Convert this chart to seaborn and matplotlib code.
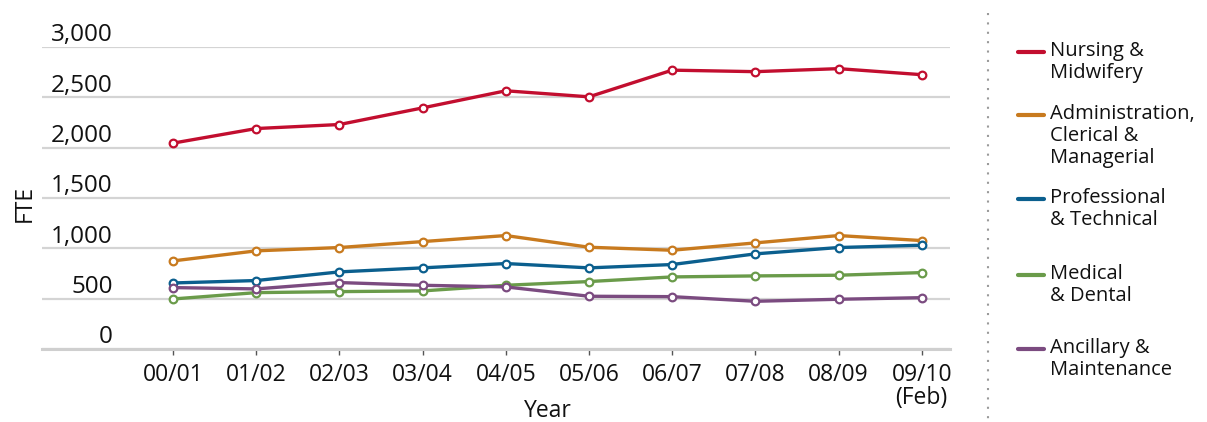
import matplotlib
matplotlib.use("Agg")
import matplotlib.pyplot as plt
import matplotlib.transforms as mtransforms
from matplotlib.lines import Line2D
import seaborn as sns
import pandas as pd

years = ["00/01", "01/02", "02/03", "03/04", "04/05", "05/06", "06/07", "07/08", "08/09", "09/10\n(Feb)"]
nursing = [2045, 2190, 2230, 2395, 2565, 2505, 2770, 2755, 2785, 2725]
admin = [875, 975, 1008, 1067, 1127, 1011, 981, 1054, 1127, 1077]
professional = [656, 680, 766, 806, 849, 806, 839, 945, 1008, 1031]
medical = [497, 560, 570, 577, 633, 670, 716, 726, 733, 759]
ancillary = [610, 597, 660, 633, 617, 524, 520, 474, 494, 510]

series_names = ["Nursing &\nMidwifery", "Administration,\nClerical &\nManagerial",
                "Professional\n& Technical", "Medical\n& Dental", "Ancillary &\nMaintenance"]
series_values = [nursing, admin, professional, medical, ancillary]
colors = ["#C20E2F", "#C87A1E", "#0B5F8E", "#6A9B4A", "#7B4B80"]
y_ticks = [0, 500, 1000, 1500, 2000, 2500, 3000]
y_ticklabels = ["0", "500", "1,000", "1,500", "2,000", "2,500", "3,000"]

rows = []
for name, vals in zip(series_names, series_values):
    for i, v in enumerate(vals):
        rows.append({"x": i, "FTE": v, "series": name})
df = pd.DataFrame(rows)

sns.set_style("white")
plt.rcParams["font.family"] = ["Open Sans", "DejaVu Sans"]

W, H = 1207, 422
fig = plt.figure(figsize=(W / 100, H / 100), dpi=100)
ax = fig.add_axes([42 / W, 1 - 349 / H, (950 - 42) / W, (349 - 47) / H])

sns.lineplot(data=df, x="x", y="FTE", hue="series", hue_order=series_names,
             palette=colors, marker="o", markersize=5.5, linewidth=2.4,
             legend=False, ax=ax, clip_on=False, zorder=3)
for line in ax.lines:
    c = line.get_color()
    line.set_markeredgecolor(c)
    line.set_markerfacecolor("white")
    line.set_markeredgewidth(1.6)

ax.set_xlim(-1.575, 9.34)
ax.set_ylim(0, 3000)
ax.set_xticks(range(len(years)))
ax.set_xticklabels(years, fontsize=16.5, color="#111111", linespacing=0.95)
ax.set_yticks(y_ticks)
ax.set_yticklabels(y_ticklabels, fontsize=17.5, color="#111111")

ax.grid(axis="y", color="#d4d4d4", linewidth=1.6)
ax.grid(axis="x", visible=False)
for s in ["top", "right", "left"]:
    ax.spines[s].set_visible(False)
ax.spines["bottom"].set_color("#cfcfcf")
ax.spines["bottom"].set_linewidth(2.2)
ax.spines["bottom"].set_zorder(1)

ax.tick_params(axis="x", length=4, width=1, color="#555555", pad=6, direction="out", bottom=True)
ax.tick_params(axis="y", length=0, pad=-51)
offset = mtransforms.ScaledTranslation(0, 4 / 72, fig.dpi_scale_trans)
for lbl in ax.get_yticklabels():
    lbl.set_verticalalignment("baseline")
    lbl.set_transform(lbl.get_transform() + offset)

ax.set_xlabel("Year", fontsize=16.5, color="#111111")
ax.xaxis.set_label_coords((548 - 42) / 908, -0.166)
ax.set_ylabel("FTE", fontsize=16.5, color="#111111")
ax.yaxis.set_label_coords((37 - 42) / 908, 0.483)

# divider
fig.add_artist(Line2D([988 / W, 988 / W], [1 - 13 / H, 1 - 420 / H], color="#9a9a9a",
                      linewidth=1.5, linestyle=(0, (1, 3.5)), transform=fig.transFigure))

# legend
handle_y = [52, 115, 199, 275, 349]
for name, c, hy in zip(series_names, colors, handle_y):
    yf = 1 - hy / H
    fig.add_artist(Line2D([1018 / W, 1044 / W], [yf, yf], color=c, linewidth=3,
                          solid_capstyle="round", transform=fig.transFigure))
    fig.text(1050 / W, 1 - (hy - 11) / H, name, fontsize=14.5, va="top", ha="left",
             color="#111111", linespacing=1.14)

fig.savefig("out.png", dpi=100)
